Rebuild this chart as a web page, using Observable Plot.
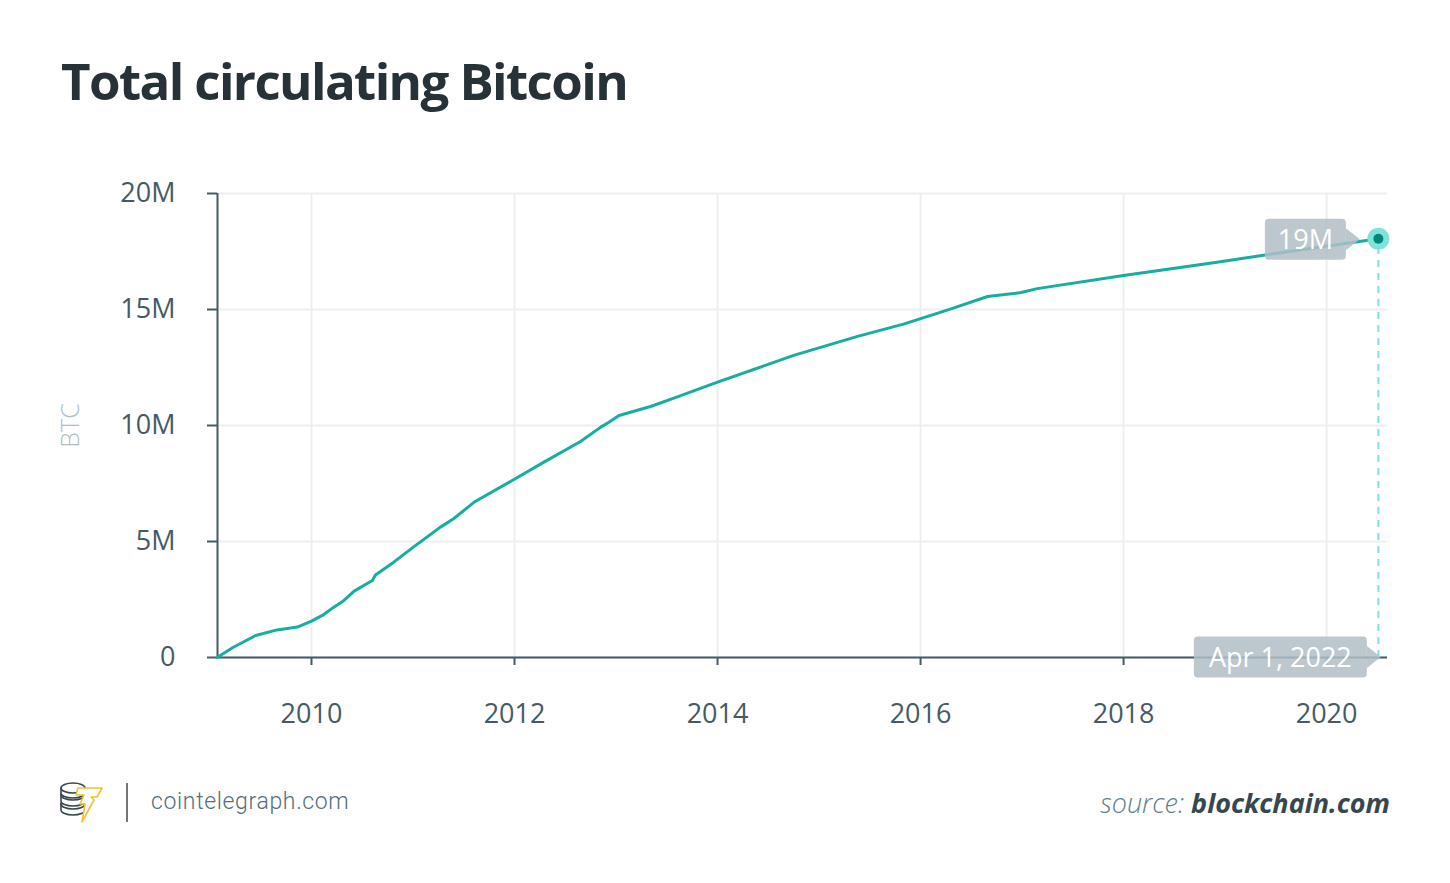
<!DOCTYPE html>
<html>
<head>
<meta charset="utf-8">
<script src="https://cdn.jsdelivr.net/npm/d3@7"></script>
<script src="https://cdn.jsdelivr.net/npm/@observablehq/plot@0.6"></script>
<style>
  html, body { margin: 0; padding: 0; background: #ffffff; }
  #wrap { position: relative; width: 1450px; height: 883px; overflow: hidden; font-family: "Open Sans", sans-serif; }
  #title { position: absolute; left: 61px; top: 55px; font-size: 51px; line-height: 51px; font-weight: 700; color: #263238; white-space: nowrap; letter-spacing: -1.6px; }
  #chart { position: absolute; left: 0; top: 0; }
  #brand { position: absolute; left: 151px; top: 787px; font-family: Roboto, sans-serif; font-weight: 300; font-size: 23px; line-height: 30px; color: #546e7a; letter-spacing: 0.65px; }
  #sep { position: absolute; left: 126px; top: 783px; width: 2px; height: 39px; background: #757575; }
  #logo { position: absolute; left: 58px; top: 782px; }
  #source { position: absolute; right: 60px; top: 785px; font-size: 27px; line-height: 36px; font-style: italic; white-space: nowrap; }
  #source .s { font-weight: 300; color: #607d8b; }
  #source .b { font-weight: 700; color: #37474f; }
</style>
</head>
<body>
<div id="wrap">
  <div id="chart"></div>
  <div id="title">Total circulating Bitcoin</div>
  <svg id="logo" width="48" height="42" viewBox="0 0 48 42">
    <g fill="#fff" stroke="#37474f" stroke-width="1.6">
      <path d="M3 28 a12 5 0 0 0 24 0 v-6 h-24 z"/>
      <ellipse cx="15" cy="22" rx="12" ry="5"/>
      <path d="M3 19 a12 5 0 0 0 24 0 v-6 h-24 z"/>
      <ellipse cx="15" cy="13" rx="12" ry="5"/>
      <path d="M3 11 a12 5 0 0 0 24 0 v-5 h-24 z"/>
      <ellipse cx="15" cy="6" rx="12" ry="5"/>
    </g>
    <path d="M20 6 H44 L39 15 H33 L36 18 L24 40 L27 22 H22 L26 13 H18 Z" fill="#fff" stroke="#f2c230" stroke-width="1.6" stroke-linejoin="round"/>
  </svg>
  <div id="sep"></div>
  <div id="brand">cointelegraph.com</div>
  <div id="source"><span class="s">source: </span><span class="b">blockchain.com</span></div>
</div>
<script>
// ---- data ----
const years = [2009.07, 2009.23, 2009.45, 2009.66, 2009.86, 2010.0, 2010.12, 2010.22, 2010.32, 2010.42,
  2010.60, 2010.63, 2010.81, 2011.01, 2011.27, 2011.40, 2011.60, 2011.99, 2012.29, 2012.65,
  2012.85, 2012.93, 2013.03, 2013.34, 2013.57, 2014.0, 2014.75, 2015.38, 2015.84, 2016.30,
  2016.66, 2016.99, 2017.15, 2018.0, 2018.92, 2019.58, 2020.51];
const supplyM = [0, 0.44, 0.95, 1.19, 1.31, 1.57, 1.85, 2.17, 2.46, 2.86,
  3.32, 3.56, 4.11, 4.78, 5.62, 5.98, 6.69, 7.66, 8.42, 9.31,
  9.93, 10.14, 10.43, 10.82, 11.18, 11.87, 13.02, 13.84, 14.38, 15.03,
  15.56, 15.73, 15.90, 16.47, 17.04, 17.47, 18.05];
const xTicks = [2010, 2012, 2014, 2016, 2018, 2020];
const yTicks = [0, 5e6, 10e6, 15e6, 20e6];
const yTickLabels = ["0", "5M", "10M", "15M", "20M"];
const xDomain = [2009.074, 2020.6];
const yDomain = [0, 20e6];
const yLabel = "BTC";
const endValueLabel = "19M";
const endDateLabel = "Apr 1, 2022";

const data = years.map((y, i) => ({year: y, btc: supplyM[i] * 1e6}));
const last = data[data.length - 1];

const chart = Plot.plot({
  width: 1450,
  height: 883,
  marginTop: 193,
  marginBottom: 226,
  marginLeft: 217,
  marginRight: 63,
  style: {background: "transparent", fontFamily: "'Open Sans', sans-serif", color: "#455a64", overflow: "visible"},
  x: {type: "linear", domain: xDomain},
  y: {type: "linear", domain: yDomain},
  marks: [
    Plot.gridX(xTicks, {stroke: "#eceff1", strokeOpacity: 1, strokeWidth: 2}),
    Plot.gridY(yTicks, {stroke: "#eceff1", strokeOpacity: 1, strokeWidth: 2}),
    Plot.axisX(xTicks, {tickFormat: d => String(d), tickSize: 8, tickPadding: 38, fontSize: 27, strokeWidth: 2, label: null}),
    Plot.axisY(yTicks, {tickFormat: (d, i) => yTickLabels[yTicks.indexOf(d)], tickSize: 10, tickPadding: 32, fontSize: 27, strokeWidth: 2, label: null}),
    Plot.text([yLabel], {text: d => d, frameAnchor: "left", textAnchor: "middle", dx: -147, rotate: -90, fontSize: 25, fontWeight: 300, fill: "#b0bec5"}),
    Plot.ruleX([xDomain[0]], {stroke: "#455a64", strokeWidth: 2}),
    Plot.ruleY([0], {stroke: "#455a64", strokeWidth: 2}),
    Plot.ruleX([last], {x: "year", y1: 0, y2: "btc", stroke: "#80deea", strokeWidth: 2, strokeDasharray: "7,6"}),
    Plot.line(data, {x: "year", y: "btc", stroke: "#17ada1", strokeWidth: 3, curve: "linear"}),
    Plot.dot([last], {x: "year", y: "btc", r: 11, fill: "#7fe3da", stroke: null}),
    Plot.dot([last], {x: "year", y: "btc", r: 5, fill: "#00897b", stroke: null})
  ]
});
document.getElementById("chart").appendChild(chart);

// ---- annotation boxes positioned through the Plot scales ----
const sx = chart.scale("x"), sy = chart.scale("y");
const px = sx.apply(last.year), py = sy.apply(last.btc), py0 = sy.apply(0);
const svg = d3.select(chart);
const ann = svg.append("g");

function box(rightX, cy, w, h, label) {
  const g = ann.append("g");
  const left = rightX - w, top = cy - h / 2;
  g.append("rect").attr("x", left).attr("y", top).attr("width", w).attr("height", h)
    .attr("rx", 4).attr("fill", "#b0bec5").attr("fill-opacity", 0.85);
  g.append("path").attr("d", `M${rightX},${cy - 11} L${rightX + 14},${cy} L${rightX},${cy + 11} Z`)
    .attr("fill", "#b0bec5").attr("fill-opacity", 0.85);
  g.append("text").attr("x", left + w / 2).attr("y", cy).attr("dy", "0.36em")
    .attr("text-anchor", "middle").attr("fill", "#ffffff").attr("font-size", 27)
    .attr("font-family", "'Open Sans', sans-serif").text(label);
}
box(px - 32, py + 1, 81, 41, endValueLabel);
box(px - 11, py0, 173, 41, endDateLabel);
// keep the point on top
svg.selectAll("circle").raise();
</script>
</body>
</html>
